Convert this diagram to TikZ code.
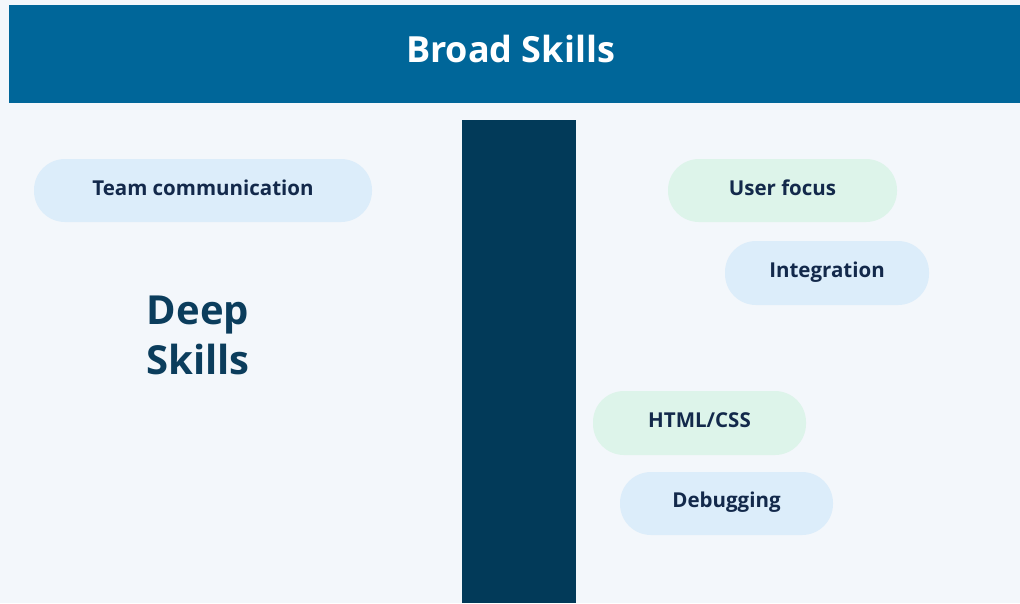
\documentclass[tikz,border=0pt]{standalone}
\usepackage{fontspec}
\setmainfont{Open Sans}
\usetikzlibrary{calc}
\definecolor{bgc}{HTML}{F3F7FB}
\definecolor{topc}{HTML}{006699}
\definecolor{barc}{HTML}{023A59}
\definecolor{pillblue}{HTML}{DCEDFA}
\definecolor{pillgreen}{HTML}{DDF4EA}
\definecolor{txtc}{HTML}{13294B}
\definecolor{deepc}{HTML}{0B3D5C}
\tikzset{
  pill/.style={rounded corners=31pt, inner sep=0pt, draw=none},
  pilltext/.style={font=\fontsize{20.5}{24}\selectfont\bfseries, text=txtc, inner sep=0pt, anchor=base},
}
\begin{document}
\begin{tikzpicture}[x=1pt,y=-1pt]
\fill[bgc] (0,0) rectangle (1020,603);
\useasboundingbox (0,0) rectangle (1020,603);
% top band
\fill[topc] (9,5) rectangle (1020,103);
\node[font=\fontsize{36}{40}\selectfont\bfseries, text=white, inner sep=0pt, anchor=base] (broad) at (510.5,62) {Broad Skills};
% vertical bar
\fill[barc] (462,120) rectangle (576,603);
% deep skills
\node[font=\fontsize{40}{50}\selectfont\bfseries, text=deepc, align=center, inner sep=0pt] (deep) at (198,335) {Deep\\Skills};
% pills
\node[pill, fill=pillblue, minimum width=338pt, minimum height=63pt] (team) at (203,190.5) {};
\node[pilltext] (teamt) at ($(team.center)+(0,4.5)$) {Team communication};
\node[pill, fill=pillgreen, minimum width=229pt, minimum height=63pt] (user) at (782.5,190.5) {};
\node[pilltext] (usert) at ($(user.center)+(0,4.5)$) {User focus};
\node[pill, fill=pillblue, minimum width=204pt, minimum height=64pt] (integ) at (827,273) {};
\node[pilltext] (integt) at ($(integ.center)+(0,4)$) {Integration};
\node[pill, fill=pillgreen, minimum width=213pt, minimum height=64pt] (html) at (699.5,423) {};
\node[pilltext] (htmlt) at ($(html.center)+(0,4)$) {HTML/CSS};
\node[pill, fill=pillblue, minimum width=213pt, minimum height=63pt] (debug) at (726.5,503.5) {};
\node[pilltext] (debugt) at ($(debug.center)+(0,4)$) {Debugging};
\end{tikzpicture}
\end{document}
